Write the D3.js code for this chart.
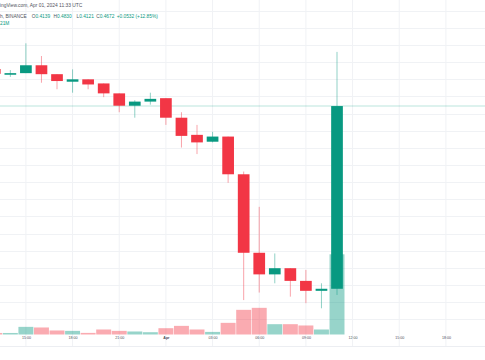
<!DOCTYPE html>
<html><head><meta charset="utf-8">
<script src="https://cdn.jsdelivr.net/npm/d3@7"></script>
<style>html,body{margin:0;padding:0;background:#fff;overflow:hidden}</style>
</head><body><svg id="c" width="485" height="360"></svg>
<script>
// ---- data ----
const times = ["2024-03-31 13:00","2024-03-31 14:00","2024-03-31 15:00","2024-03-31 16:00","2024-03-31 17:00","2024-03-31 18:00","2024-03-31 19:00","2024-03-31 20:00","2024-03-31 21:00","2024-03-31 22:00","2024-03-31 23:00","2024-04-01 00:00","2024-04-01 01:00","2024-04-01 02:00","2024-04-01 03:00","2024-04-01 04:00","2024-04-01 05:00","2024-04-01 06:00","2024-04-01 07:00","2024-04-01 08:00","2024-04-01 09:00","2024-04-01 10:00","2024-04-01 11:00"];
const opens  = [0.4780,0.4767,0.4768,0.4791,0.4765,0.4743,0.4750,0.4738,0.4709,0.4673,0.4685,0.4695,0.4638,0.4588,0.4568,0.4583,0.4473,0.4244,0.4181,0.4199,0.4162,0.4133,0.4139];
const highs  = [0.4786,0.4777,0.4855,0.4818,0.4765,0.4779,0.4750,0.4738,0.4709,0.4689,0.4711,0.4695,0.4654,0.4617,0.4597,0.4583,0.4481,0.4378,0.4242,0.4199,0.4194,0.4155,0.4830];
const lows   = [0.4757,0.4757,0.4768,0.4740,0.4721,0.4711,0.4721,0.4698,0.4654,0.4638,0.4676,0.4617,0.4551,0.4532,0.4566,0.4448,0.4106,0.4128,0.4155,0.4116,0.4097,0.4082,0.4121];
const closes = [0.4766,0.4768,0.4791,0.4765,0.4745,0.4750,0.4735,0.4709,0.4673,0.4685,0.4693,0.4638,0.4585,0.4566,0.4583,0.4473,0.4244,0.4181,0.4199,0.4162,0.4133,0.4139,0.4672];
const volumes = [0.4,0.4,2.0,1.84,1.05,0.95,0.42,1.31,0.95,0.79,0.6,1.65,2.26,1.31,0.68,3.05,6.46,6.98,2.7,2.7,2.36,1.31,21.0];
const tickTimes = ["2024-03-31 15:00","2024-03-31 18:00","2024-03-31 21:00","2024-04-01 00:00","2024-04-01 03:00","2024-04-01 06:00","2024-04-01 09:00","2024-04-01 12:00","2024-04-01 15:00","2024-04-01 18:00"];
const tickLabels = ["15:00","18:00","21:00","Apr","03:00","06:00","09:00","12:00","15:00","18:00"];
const priceGrid = [0.405,0.41,0.415,0.42,0.425,0.43,0.435,0.44,0.445,0.45,0.455,0.46,0.465,0.47,0.475,0.48,0.485,0.49,0.495];
const lastPrice = 0.4672;

// ---- chart ----
const parse = d3.utcParse("%Y-%m-%d %H:%M");
const data = times.map((t,i)=>({t:parse(t),o:opens[i],h:highs[i],l:lows[i],c:closes[i],v:volumes[i]}));
const up = "#089981", down = "#f23645";
const svg = d3.select("#c");
const x = d3.scaleUtc().domain([parse(tickTimes[0]), parse(tickTimes[tickTimes.length-1])]).range([25.9, 445.9]);
const y = d3.scaleLinear().domain([0.415, 0.495]).range([285, 10.76]);
const yv = d3.scaleLinear().domain([0, 21]).range([334.5, 254.3]);
const slot = x(parse(times[1])) - x(parse(times[0]));
const bodyW = 11.7;

// grid
const g = svg.append("g");
g.selectAll("line.h").data(priceGrid).join("line")
  .attr("x1",0).attr("x2",485).attr("y1",d=>Math.round(y(d))+0.5).attr("y2",d=>Math.round(y(d))+0.5)
  .attr("stroke","#f0f2f5").attr("stroke-width",1);
g.selectAll("line.v").data(tickTimes).join("line")
  .attr("x1",d=>x(parse(d))).attr("x2",d=>x(parse(d))).attr("y1",0).attr("y2",346)
  .attr("stroke","#f0f2f5").attr("stroke-width",1);
g.append("line").attr("x1",0).attr("x2",485).attr("y1",346.5).attr("y2",346.5).attr("stroke","#eceef2");

// volume
svg.append("g").selectAll("rect").data(data).join("rect")
  .attr("x",d=>x(d.t)-slot/2+0.3).attr("width",slot-0.6)
  .attr("y",d=>yv(d.v)).attr("height",d=>yv(0)-yv(d.v))
  .attr("fill",d=>d.c>=d.o?up:down).attr("fill-opacity",0.42);

// last price line
svg.append("line").attr("x1",0).attr("x2",485).attr("y1",y(lastPrice)).attr("y2",y(lastPrice))
  .attr("stroke",up).attr("stroke-opacity",0.18).attr("stroke-width",1.6);

// candles
const cg = svg.append("g").selectAll("g").data(data).join("g");
cg.append("line").attr("x1",d=>x(d.t)).attr("x2",d=>x(d.t))
  .attr("y1",d=>y(d.h)).attr("y2",d=>y(d.l))
  .attr("stroke",d=>d.c>=d.o?up:down).attr("stroke-opacity",0.45).attr("stroke-width",1);
cg.append("rect").attr("x",d=>x(d.t)-bodyW/2).attr("width",bodyW)
  .attr("y",d=>y(Math.max(d.o,d.c))).attr("height",d=>Math.max(1.6,Math.abs(y(d.o)-y(d.c))))
  .attr("fill",d=>d.c>=d.o?up:down);

// time axis
const ax = svg.append("g").attr("transform","translate(0,338)")
  .call(d3.axisBottom(x).tickValues(tickTimes.map(parse)).tickSize(0).tickPadding(0)
    .tickFormat((d,i)=>tickLabels[i]));
ax.select(".domain").remove();
ax.selectAll("text").attr("font-family","Liberation Sans, Arial, sans-serif").attr("font-size",3.6)
  .attr("fill","#4a4e59").attr("dy","0.2em")
  .attr("font-weight",(d,i)=>tickLabels[i]==="Apr"?"bold":"normal");

// header
const hf = "Liberation Sans, Arial, sans-serif";
svg.append("text").attr("x",-10).attr("y",7.4).attr("font-family",hf).attr("font-size",4.9)
  .attr("fill","#50535e").text("TradingView.com, Apr 01, 2024 11:33 UTC");
const t2 = svg.append("text").attr("y",18.3).attr("font-family",hf).attr("font-size",4.8).attr("fill","#50535e");
t2.append("tspan").attr("x",-2.6).text("1h, BINANCE");
const ohlc = [["O","0.4139",31.7],["H","0.4830",53.5],["L","0.4121",76.5],["C","0.4672",96.2]];
ohlc.forEach(([k,v,px])=>{
  t2.append("tspan").attr("x",px).attr("fill","#50535e").text(k);
  t2.append("tspan").attr("fill",up).text(v);
});
t2.append("tspan").attr("x",116.7).attr("fill",up).text("+0.0532 (+12.85%)");
svg.append("text").attr("x",0).attr("y",25).attr("font-family",hf).attr("font-size",4.8)
  .attr("fill",up).text("21M");
</script></body></html>
